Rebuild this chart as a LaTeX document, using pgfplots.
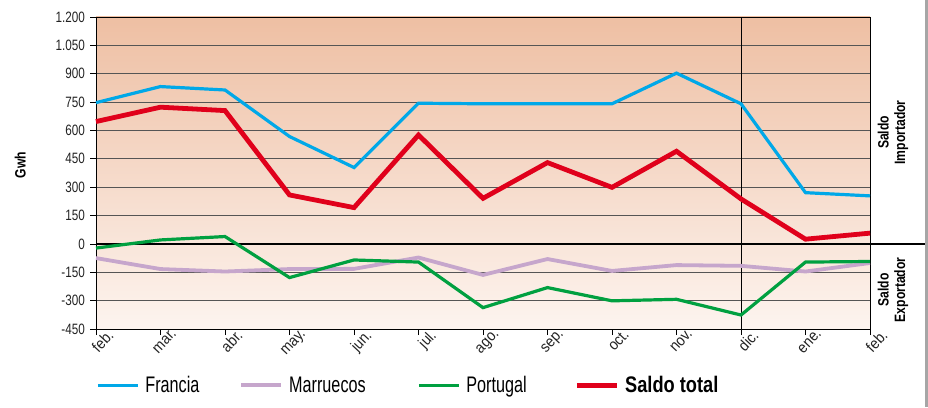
\documentclass[border=0pt]{standalone}
\usepackage{fontspec}
\setmainfont{Liberation Sans}[FakeStretch=0.72, BoldFeatures={FakeStretch=0.81}]
\newfontfamily\tickfont{Liberation Sans}[FakeStretch=0.78]
\newfontfamily\xtickfont{Liberation Sans}[FakeStretch=0.9]
\usepackage{pgfplots}
\pgfplotsset{compat=1.18}
\definecolor{cFr}{HTML}{00A8E8}
\definecolor{cMa}{HTML}{C6A6CC}
\definecolor{cPo}{HTML}{00A040}
\definecolor{cSa}{HTML}{E0001B}
\definecolor{bgTop}{HTML}{EEBFA3}
\definecolor{bgBot}{HTML}{FDF4EF}
\definecolor{gridc}{HTML}{555555}
\definecolor{txt}{HTML}{222222}

\pgfplotstableread{
x Francia Marruecos Portugal Saldo
0  747 -75  -22 647
1  832 -133  21 723
2  814 -146  39 705
3  568 -133 -178 259
4  404 -132 -85 192
5  744 -72  -96 576
6  741 -164 -337 241
7  741 -80  -231 430
8  741 -143 -301 299
9  903 -112 -293 490
10 741 -116 -376 238
11 271 -146 -96  25
12 254 -101 -93  57
}\datatable

\begin{document}
\begin{tikzpicture}[x=1pt,y=1pt]
\useasboundingbox (0,0) rectangle (928,407);
\begin{axis}[
  at={(96pt,78pt)}, anchor=south west,
  scale only axis, width=774pt, height=312pt,
  xmin=0, xmax=12, ymin=-450, ymax=1200,
  clip=false,
  xtick={0,...,12},
  xticklabels={feb.,mar.,abr.,may.,jun.,jul.,ago.,sep.,oct.,nov.,dic.,ene.,feb.},
  ytick={-450,-300,...,1200},
  yticklabels={-450,-300,-150,0,150,300,450,600,750,900,1.050,1.200},
  ymajorgrids, grid style={gridc, line width=0.8pt},
  axis line style={black, line width=0.8pt},
  axis background/.style={shade, top color=bgTop, bottom color=bgBot},
  tick align=outside, major tick length=6pt,
  xtick pos=bottom, ytick pos=left,
  x tick style={black, line width=0.8pt},
  y tick style={black, line width=0.8pt},
  xticklabel style={rotate=47, anchor=north east, inner sep=0pt, font=\xtickfont\fontsize{15.5}{15.5}\selectfont, text=txt, xshift=12pt, yshift=-3pt},
  yticklabel style={font=\tickfont\fontsize{15}{15}\selectfont, text=txt, inner sep=2pt, xshift=-3pt},
  ylabel={Gwh},
  ylabel style={at={(axis description cs:-0.098,0.526)}, anchor=center, font=\bfseries\fontsize{15}{15}\selectfont},
  legend columns=4,
  legend style={at={(axis description cs:0,-0.18)}, anchor=west, draw=none, fill=none,
    font=\fontsize{22.5}{22.5}\selectfont, inner xsep=0pt,
    /tikz/every even column/.append style={column sep=0pt},
    /tikz/every odd column/.append style={column sep=0pt}},
  legend image code/.code={\draw[#1] (0pt,0pt) -- (40pt,0pt); \path (44pt,0pt);},
]
\draw[black, line width=0.8pt] (axis cs:10,-450) -- (axis cs:10,1200);
\draw[black, line width=1.8pt] (axis cs:0,0) -- (axis cs:12,0) -- ++(58pt,0pt);
\addplot[cFr, line width=3.2pt] table[x=x, y=Francia] {\datatable};
\addplot[cMa, line width=3.8pt] table[x=x, y=Marruecos] {\datatable};
\addplot[cPo, line width=3.2pt] table[x=x, y=Portugal] {\datatable};
\addplot[cSa, line width=4.8pt] table[x=x, y=Saldo] {\datatable};
\legend{\makebox[92pt][l]{Francia}, \makebox[126pt][l]{Marruecos}, \makebox[106pt][l]{Portugal}, \textbf{Saldo total}}
\node[rotate=90, align=center, font=\bfseries\fontsize{15}{16.5}\selectfont] at ([xshift=23pt]axis cs:12,590) {Saldo\\Importador};
\node[rotate=90, align=center, font=\bfseries\fontsize{15}{16.5}\selectfont] at ([xshift=23pt]axis cs:12,-243) {Saldo\\Exportador};
\end{axis}
\draw[gray!70, line width=3pt] (926.5,0) -- (926.5,407);
\end{tikzpicture}
\end{document}
